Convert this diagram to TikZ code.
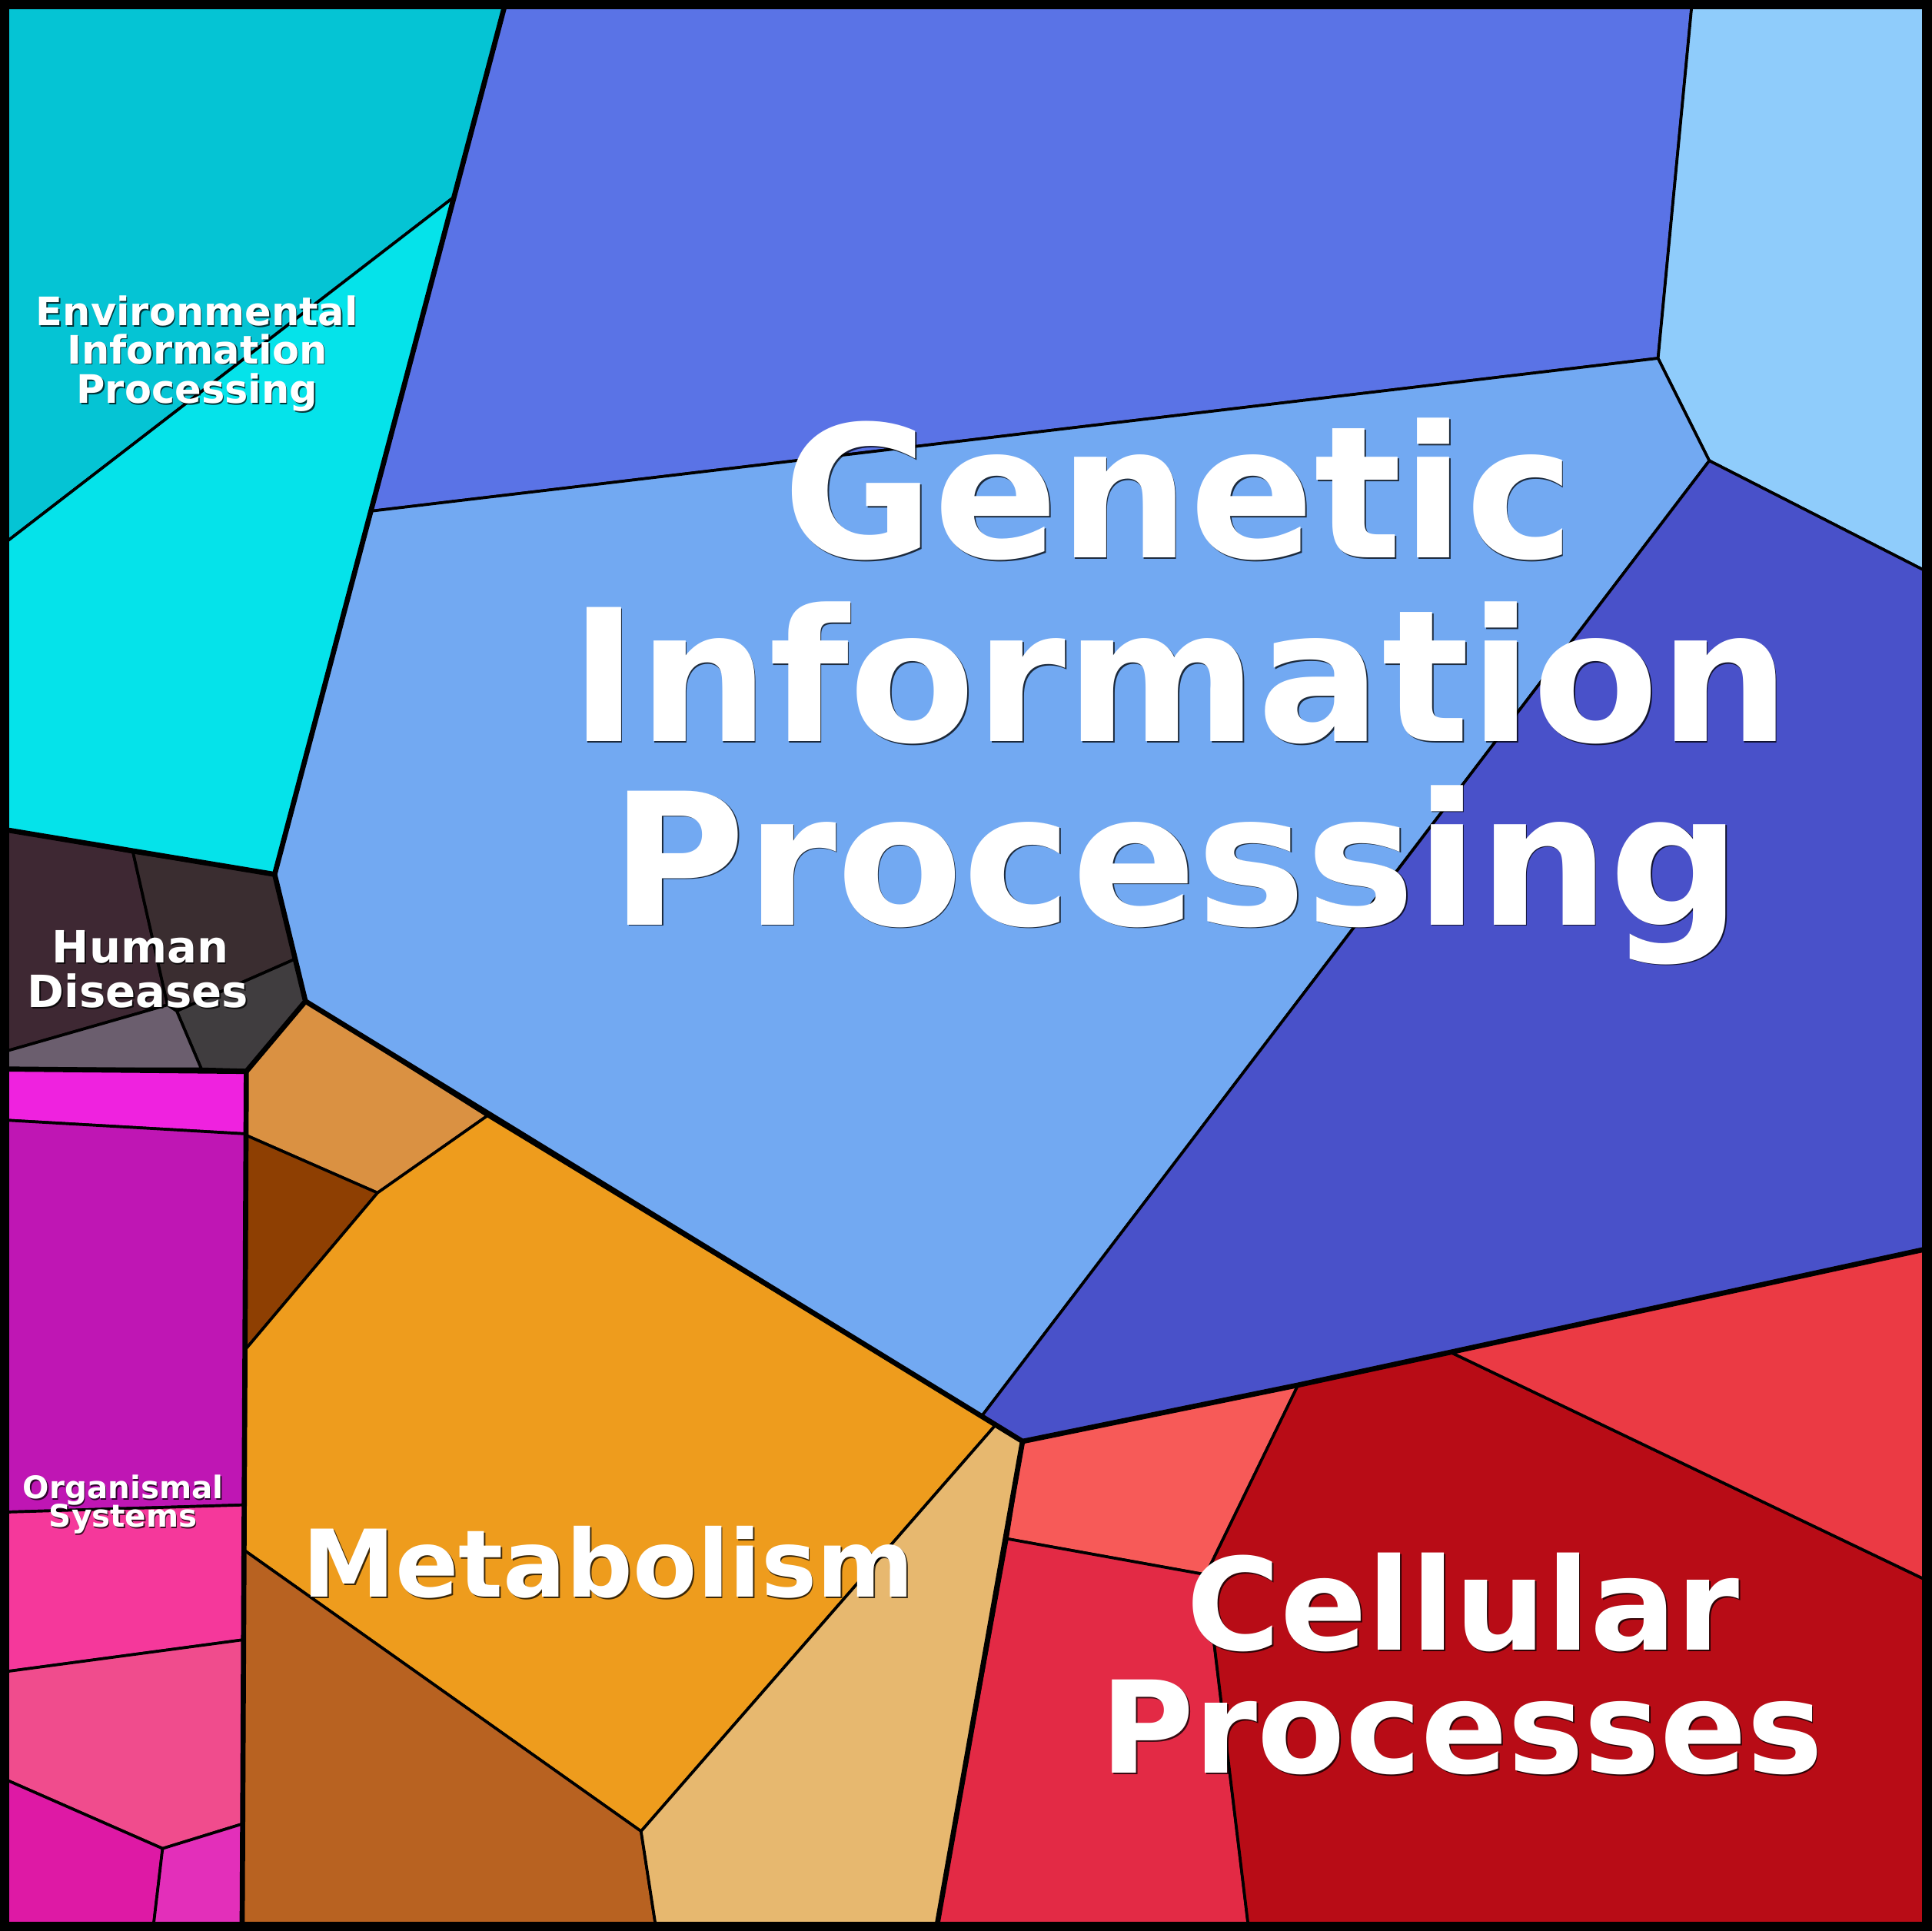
\documentclass[tikz,border=0pt]{standalone}
\usepackage{fontspec}
\setmainfont{DejaVu Sans}
\definecolor{envA}{HTML}{05C4D4}
\definecolor{envB}{HTML}{05E3EA}
\definecolor{genC}{HTML}{5A73E6}
\definecolor{genD}{HTML}{8FCCFB}
\definecolor{genE}{HTML}{72A9F2}
\definecolor{genF}{HTML}{4951C9}
\definecolor{hdA}{HTML}{3E2833}
\definecolor{hdB}{HTML}{3A2D30}
\definecolor{hdC}{HTML}{403D3F}
\definecolor{hdD}{HTML}{6B5E6E}
\definecolor{orA}{HTML}{EF22DF}
\definecolor{orB}{HTML}{BF16B4}
\definecolor{orC}{HTML}{F5389B}
\definecolor{orD}{HTML}{F04C8D}
\definecolor{orE}{HTML}{DE19A5}
\definecolor{orF}{HTML}{E32FBA}
\definecolor{meA}{HTML}{DA9142}
\definecolor{meB}{HTML}{8E3F02}
\definecolor{meC}{HTML}{EE9C1D}
\definecolor{meD}{HTML}{B86221}
\definecolor{meE}{HTML}{E7B86F}
\definecolor{ceA}{HTML}{F75A58}
\definecolor{ceB}{HTML}{E32A45}
\definecolor{ceC}{HTML}{B80C16}
\definecolor{ceD}{HTML}{EB3A44}
\tikzset{
  cell/.style={draw=black, line width=1.05pt, line join=round},
  grp/.style={draw=black, line width=1.9pt, line join=round, line cap=round},
  txt/.style={text=white, inner sep=0pt, anchor=base},
  shd/.style={text=black, opacity=0.75, inner sep=0pt, anchor=base, xshift=0.45pt, yshift=-0.45pt},
}
\newcommand\lbl[4]{%
  \node[shd, font=#4] at (#1) {#3};
  \node[txt, font=#4] (#2) at (#1) {#3};}
\begin{document}
\begin{tikzpicture}[x=0.016cm,y=-0.016cm]
\useasboundingbox (0,0) rectangle (1568,1568);
% Environmental
\path[cell, fill=envA] (0,0) -- (411,0) -- (368.3,160.2) -- (0,444) -- cycle;
\path[cell, fill=envB] (0,444) -- (368.3,160.2) -- (223,710) -- (0,673) -- cycle;
% Genetic
\path[cell, fill=genC] (411,0) -- (1374,0) -- (1346.2,290.9) -- (301.5,415) -- cycle;
\path[cell, fill=genD] (1374,0) -- (1568,0) -- (1568,466) -- (1387.8,374.1) -- (1346.2,290.9) -- cycle;
\path[cell, fill=genE] (301.5,415) -- (1346.2,290.9) -- (1387.8,374.1) -- (797,1150) -- (248,813) -- (223,710) -- cycle;
\path[cell, fill=genF] (1387.8,374.1) -- (1568,466) -- (1568,1013.3) -- (1177.7,1098) -- (1053.9,1124.7) -- (830.2,1170.4) -- (797,1150) -- cycle;
% Human Diseases
\path[cell, fill=hdA] (0,673) -- (108,692) -- (136,816) -- (0,855) -- cycle;
\path[cell, fill=hdB] (108,692) -- (223,710) -- (239,779) -- (143.5,821) -- (136,816) -- cycle;
\path[cell, fill=hdC] (239,779) -- (248,813) -- (200,869) -- (163.5,868) -- (143.5,821) -- cycle;
\path[cell, fill=hdD] (0,855) -- (136,816) -- (143.5,821) -- (163.5,868) -- (0,868) -- cycle;
% Organismal
\path[cell, fill=orA] (0,868) -- (200,870) -- (199.75,920.7) -- (0,909.3) -- cycle;
\path[cell, fill=orB] (0,909.3) -- (199.75,920.7) -- (198.3,1222) -- (0,1228) -- cycle;
\path[cell, fill=orC] (0,1228) -- (198.3,1222) -- (197.7,1331.5) -- (0,1358) -- cycle;
\path[cell, fill=orD] (0,1358) -- (197.7,1331.5) -- (196.9,1481) -- (132,1501) -- (0,1443) -- cycle;
\path[cell, fill=orE] (0,1443) -- (132,1501) -- (124.1,1568) -- (0,1568) -- cycle;
\path[cell, fill=orF] (132,1501) -- (196.9,1481) -- (196.6,1568) -- (124.1,1568) -- cycle;
% Metabolism
\path[cell, fill=meA] (200,870) -- (248,813) -- (395.7,906) -- (306.5,968.6) -- (199.75,921.8) -- cycle;
\path[cell, fill=meB] (199.75,921.8) -- (306.5,968.6) -- (199.5,1095.5) -- cycle;
\path[cell, fill=meC] (306.5,968.6) -- (395.7,906) -- (797,1150) -- (808.4,1157) -- (520.5,1487) -- (198.6,1259) -- (199.5,1095.5) -- cycle;
\path[cell, fill=meD] (198.6,1259) -- (520.5,1487) -- (533,1568) -- (196.6,1568) -- cycle;
\path[cell, fill=meE] (808.4,1157) -- (830.2,1170.4) -- (760,1568) -- (533,1568) -- (520.5,1487) -- cycle;
% Cellular
\path[cell, fill=ceA] (830.2,1170.4) -- (1053.9,1124.7) -- (979,1278.6) -- (817.7,1249.5) -- cycle;
\path[cell, fill=ceB] (817.7,1249.5) -- (979,1278.6) -- (1014,1568) -- (760,1568) -- cycle;
\path[cell, fill=ceC] (1053.9,1124.7) -- (1177.7,1098) -- (1568,1285) -- (1568,1568) -- (1014,1568) -- (979,1278.6) -- cycle;
\path[cell, fill=ceD] (1177.7,1098) -- (1568,1013.3) -- (1568,1285) -- cycle;
% group borders
\coordinate (p1) at (411,0);
\coordinate (p2) at (223,710);
\coordinate (p3) at (0,673);
\coordinate (p4) at (248,813);
\coordinate (p5) at (200,870);
\coordinate (p6) at (0,868);
\coordinate (p7) at (196.6,1568);
\coordinate (p10) at (830.2,1170.4);
\coordinate (p11) at (760,1568);
\coordinate (p12) at (1053.9,1124.7);
\coordinate (p13) at (1177.7,1098);
\coordinate (p14) at (1568,1013.3);
\draw[grp] (p1) -- (p2) -- (p3);
\draw[grp] (p2) -- (p4) -- (p5) -- (p6);
\draw[grp] (p5) -- (p7);
\draw[grp] (p4) -- (p10) -- (p11);
\draw[grp] (p10) -- (p12) -- (p13) -- (p14);
% frame
\draw[line width=3.4pt] (3.75,3.75) rectangle (1564.25,1564.25);
% labels
\lbl{957,453}{g1}{Genetic}{\fontsize{68}{68}\selectfont\bfseries}
\lbl{958,602}{g2}{Information}{\fontsize{68}{68}\selectfont\bfseries}
\lbl{955,751}{g3}{Processing}{\fontsize{68}{68}\selectfont\bfseries}
\lbl{494,1297}{m1}{Metabolism}{\fontsize{34.5}{34.5}\selectfont\bfseries}
\lbl{1188,1340}{c1}{Cellular}{\fontsize{47.3}{47.3}\selectfont\bfseries}
\lbl{1187,1440}{c2}{Processes}{\fontsize{47.3}{47.3}\selectfont\bfseries}
\lbl{160,264.3}{e1}{Environmental}{\fontsize{14.5}{14.5}\selectfont\bfseries}
\lbl{160,295.5}{e2}{Information}{\fontsize{14.5}{14.5}\selectfont\bfseries}
\lbl{160,327.7}{e3}{Processing}{\fontsize{14.5}{14.5}\selectfont\bfseries}
\lbl{114,782}{h1}{Human}{\fontsize{16.4}{16.4}\selectfont\bfseries}
\lbl{112,818}{h2}{Diseases}{\fontsize{16.4}{16.4}\selectfont\bfseries}
\lbl{100,1217}{o1}{Organismal}{\fontsize{11.5}{11.5}\selectfont\bfseries}
\lbl{100,1240}{o2}{Systems}{\fontsize{11.5}{11.5}\selectfont\bfseries}
\end{tikzpicture}
\end{document}
